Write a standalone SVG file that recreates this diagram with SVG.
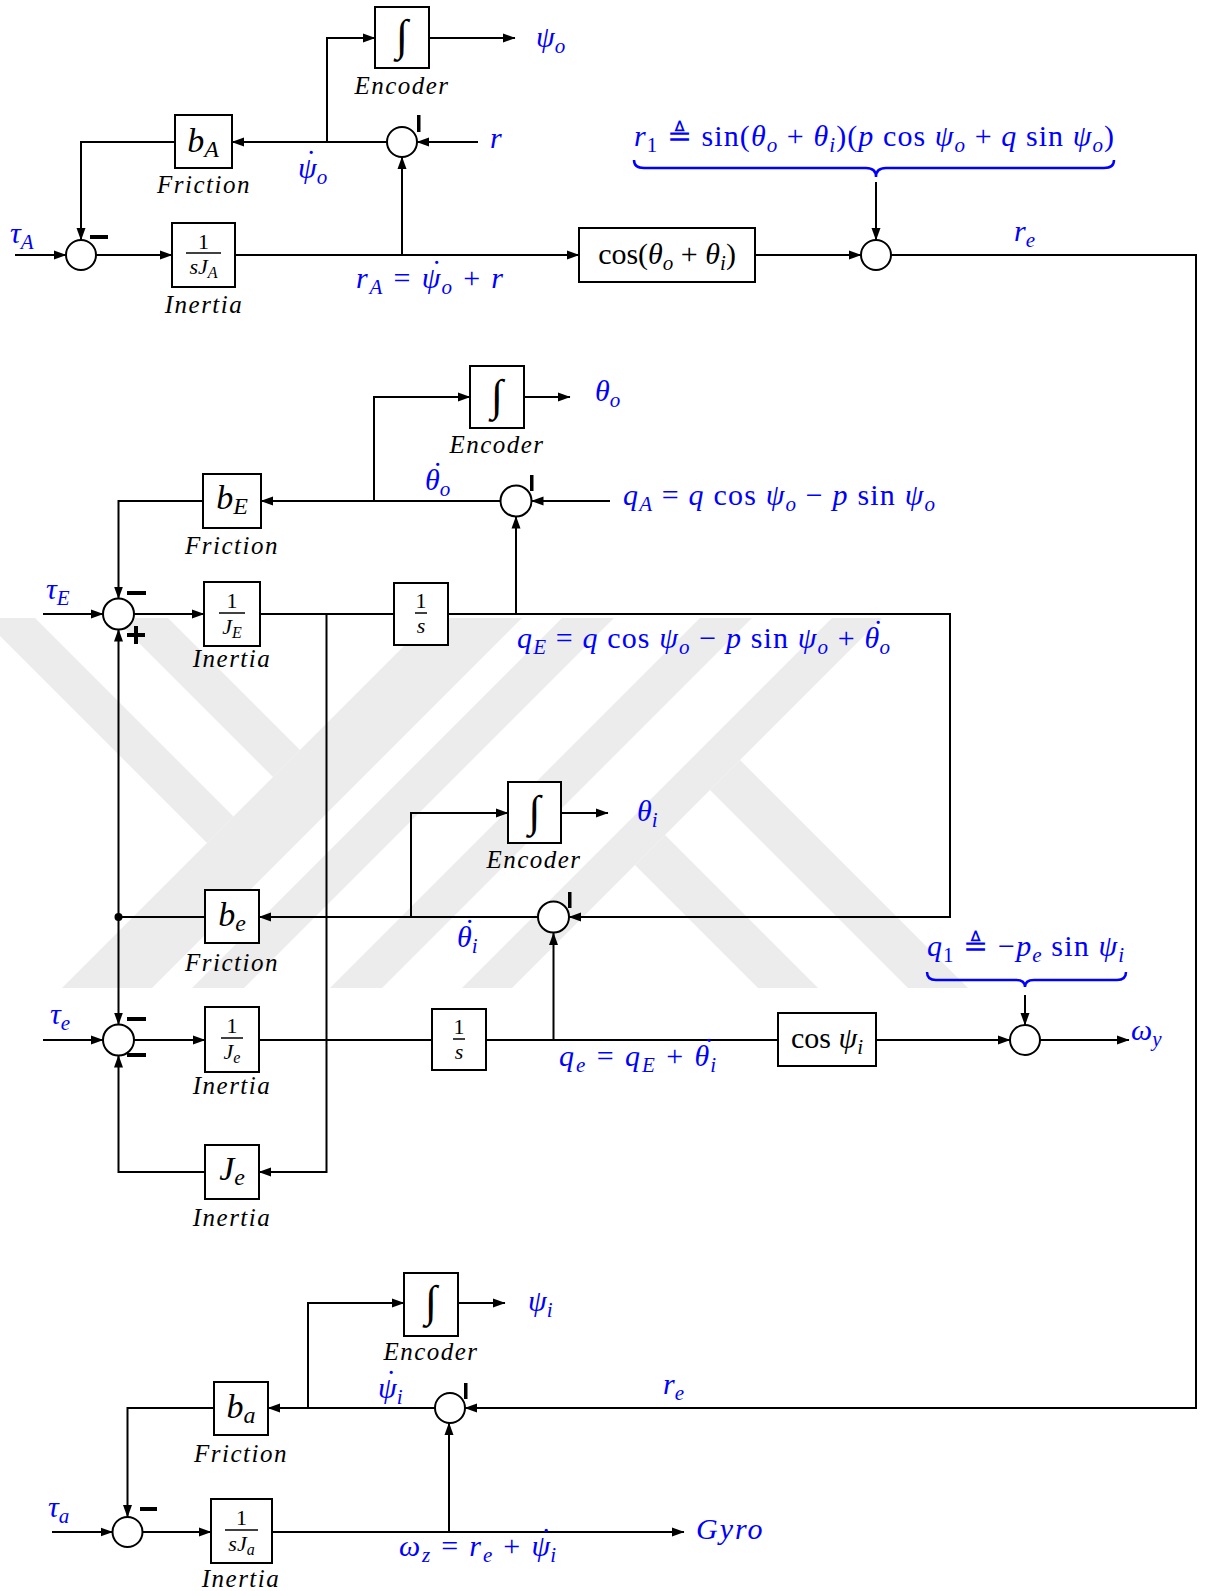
<svg xmlns="http://www.w3.org/2000/svg" width="1207" height="1591" viewBox="0 0 1207 1591">
<defs>
<marker id="ah" markerWidth="13" markerHeight="10" refX="12" refY="5" orient="auto" markerUnits="userSpaceOnUse"><path d="M0,0.5 L12.5,5 L0,9.5 z" fill="#000"/></marker>
<clipPath id="wmclip"><rect x="0" y="618" width="1207" height="370"/></clipPath>
</defs>
<style>
.ln{stroke:#000;stroke-width:2;fill:none}
.arr{marker-end:url(#ah)}
.box{fill:#fff;stroke:#000;stroke-width:2}
.sum{fill:#fff;stroke:#000;stroke-width:2}
.bar{fill:#000}
.wm{fill:#ececec}
text{font-family:"Liberation Serif","Times New Roman",Tinos,serif}
.lbl{font-style:italic;font-size:25px;letter-spacing:1.5px;fill:#000;text-anchor:middle}
.m{font-size:30px;fill:#0000ff}
.k{fill:#000}
.i{font-style:italic}
.int{font-size:44px;fill:#000;text-anchor:middle}
.fr{font-size:22px;fill:#000;text-anchor:middle}
.brace{fill:none;stroke:#0000ff;stroke-width:2.5}
</style>
<rect width="1207" height="1591" fill="#fff"/>
<g id="watermark" clip-path="url(#wmclip)">
<polygon class="wm" points="-36,600 17,600 233.5,816.5 207,843"/>
<polygon class="wm" points="96,600 150,600 300,750 273,777"/>
<polygon class="wm" points="450,600 540,600 140,1000 50,1000"/>
<polygon class="wm" points="580,600 632,600 232,1000 180,1000"/>
<polygon class="wm" points="718,600 770,600 370,1000 318,1000"/>
<polygon class="wm" points="850,600 900,600 500,1000 450,1000"/>
<polygon class="wm" points="635,865 665,835 1115,1285 1085,1315"/>
<polygon class="wm" points="710,790 740,760 1200,1220 1170,1250"/>
</g>
<g id="connectors">
<polyline class="ln arr" points="327,142 327,38 375,38"/>
<line class="ln arr" x1="429" y1="38" x2="515" y2="38"/>
<line class="ln arr" x1="478" y1="142" x2="417" y2="142"/>
<line class="ln arr" x1="387" y1="142" x2="232" y2="142"/>
<polyline class="ln arr" points="175,142 81,142 81,240"/>
<line class="ln arr" x1="15" y1="255" x2="66" y2="255"/>
<line class="ln arr" x1="96" y1="255" x2="172" y2="255"/>
<line class="ln arr" x1="235" y1="255" x2="579" y2="255"/>
<line class="ln arr" x1="402" y1="255" x2="402" y2="157"/>
<line class="ln arr" x1="755" y1="255" x2="861" y2="255"/>
<line class="ln arr" x1="876" y1="182" x2="876" y2="240"/>
<polyline class="ln arr" points="891,255 1196,255 1196,1408 465,1408"/>
<polyline class="ln arr" points="374,501 374,397 470,397"/>
<line class="ln arr" x1="524" y1="397" x2="570" y2="397"/>
<line class="ln arr" x1="610" y1="501" x2="531.5" y2="501"/>
<line class="ln arr" x1="501" y1="501" x2="261" y2="501"/>
<polyline class="ln arr" points="203,501 118.5,501 118.5,598.5"/>
<line class="ln arr" x1="43" y1="614" x2="103" y2="614"/>
<line class="ln arr" x1="134" y1="614" x2="204" y2="614"/>
<line class="ln" x1="260" y1="614" x2="394" y2="614"/>
<polyline class="ln arr" points="326.5,614 326.5,1172 259,1172"/>
<polyline class="ln arr" points="448,614 950,614 950,917 569,917"/>
<line class="ln arr" x1="516" y1="614" x2="516" y2="516.5"/>
<polyline class="ln arr" points="411,917 411,813 508,813"/>
<line class="ln arr" x1="561" y1="813" x2="608" y2="813"/>
<line class="ln arr" x1="538" y1="917" x2="259" y2="917"/>
<line class="ln" x1="205" y1="917" x2="118.5" y2="917"/>
<line class="ln arr" x1="118.5" y1="917" x2="118.5" y2="629.5"/>
<line class="ln arr" x1="118.5" y1="917" x2="118.5" y2="1024.5"/>
<line class="ln arr" x1="43" y1="1040" x2="103" y2="1040"/>
<line class="ln arr" x1="134" y1="1040" x2="205" y2="1040"/>
<line class="ln" x1="259" y1="1040" x2="432" y2="1040"/>
<line class="ln" x1="486" y1="1040" x2="778" y2="1040"/>
<line class="ln arr" x1="553.5" y1="1040" x2="553.5" y2="933"/>
<line class="ln arr" x1="876" y1="1040" x2="1010" y2="1040"/>
<line class="ln arr" x1="1040" y1="1040" x2="1129" y2="1040"/>
<line class="ln arr" x1="1025" y1="995" x2="1025" y2="1025"/>
<polyline class="ln arr" points="205,1172 118.5,1172 118.5,1055.5"/>
<polyline class="ln arr" points="308,1408 308,1303 404,1303"/>
<line class="ln arr" x1="458" y1="1303" x2="505" y2="1303"/>
<line class="ln arr" x1="435" y1="1408" x2="268" y2="1408"/>
<polyline class="ln arr" points="214,1408 127.5,1408 127.5,1517"/>
<line class="ln arr" x1="52" y1="1532" x2="112.5" y2="1532"/>
<line class="ln arr" x1="142.5" y1="1532" x2="211" y2="1532"/>
<line class="ln arr" x1="272" y1="1532" x2="684" y2="1532"/>
<line class="ln arr" x1="449" y1="1532" x2="449" y2="1423"/>
<circle cx="118.5" cy="917" r="4" fill="#000"/>
</g>
<g id="enc1"><rect class="box" x="375" y="7" width="54" height="61"/><text class="int" x="402" y="50">∫</text><text class="lbl" x="402" y="94">Encoder</text></g>
<g id="sum1"><circle class="sum" cx="402" cy="142" r="15"/><rect class="bar" x="417" y="115" width="3.5" height="17"/></g>
<g id="bA"><rect class="box" x="175" y="115" width="57" height="53"/><text class="k" x="203" y="152" text-anchor="middle" font-size="34"><tspan class="i">b</tspan><tspan class="i" font-size="24" dy="5">A</tspan></text><text class="lbl" x="204" y="193">Friction</text></g>
<g id="sum2"><circle class="sum" cx="81" cy="255" r="15"/><rect class="bar" x="90" y="235" width="18" height="4"/></g>
<g id="inA"><rect class="box" x="172" y="223" width="63" height="64"/><text class="fr" x="203.5" y="249">1</text><line x1="186" y1="253" x2="221" y2="253" stroke="#000" stroke-width="1.5"/><text class="fr" x="203.5" y="274"><tspan class="i">sJ</tspan><tspan class="i" font-size="16" dy="4">A</tspan></text><text class="lbl" x="204" y="313">Inertia</text></g>
<g id="cos1"><rect class="box" x="579" y="228" width="176" height="54"/><text class="k" x="667" y="264" text-anchor="middle" font-size="30">cos(<tspan class="i">θ</tspan><tspan class="i" font-size="21" dy="6">o</tspan><tspan dy="-6"> + </tspan><tspan class="i">θ</tspan><tspan class="i" font-size="21" dy="6">i</tspan><tspan dy="-6">)</tspan></text></g>
<g id="sum3"><circle class="sum" cx="876" cy="255" r="15"/></g>
<g id="labels1">
<text class="m" x="536" y="47"><tspan class="i">ψ</tspan><tspan class="i" font-size="21" dy="6">o</tspan></text>
<text class="m i" x="490" y="148">r</text>
<text class="m" x="298" y="178"><tspan class="i" dx="0 -12.5" dy="0 -7">ψ˙</tspan><tspan class="i" font-size="21" dx="2.5" dy="13">o</tspan></text>
<text class="m" x="10" y="243"><tspan class="i">τ</tspan><tspan class="i" font-size="21" dy="6">A</tspan></text>
<text class="m" x="356" y="288" textLength="147" lengthAdjust="spacing"><tspan class="i">r</tspan><tspan class="i" font-size="21" dy="6">A</tspan><tspan dy="-6"> = </tspan><tspan class="i" dx="0 -12.5" dy="0 -7">ψ˙</tspan><tspan class="i" font-size="21" dx="0" dy="13">o</tspan><tspan dy="-6"> + </tspan><tspan class="i">r</tspan></text>
<text class="m" x="634" y="146" textLength="480" lengthAdjust="spacing"><tspan class="i">r</tspan><tspan font-size="21" dy="6">1</tspan><tspan dy="-6"> ≜ sin(</tspan><tspan class="i">θ</tspan><tspan class="i" font-size="21" dy="6">o</tspan><tspan dy="-6"> + </tspan><tspan class="i">θ</tspan><tspan class="i" font-size="21" dy="6">i</tspan><tspan dy="-6">)(</tspan><tspan class="i">p</tspan><tspan> cos </tspan><tspan class="i">ψ</tspan><tspan class="i" font-size="21" dy="6">o</tspan><tspan dy="-6"> + </tspan><tspan class="i">q</tspan><tspan> sin </tspan><tspan class="i">ψ</tspan><tspan class="i" font-size="21" dy="6">o</tspan><tspan dy="-6">)</tspan></text>
<path class="brace" d="M634,160 Q634,168 644,168 L866,168 Q876,168 876,177 Q876,168 886,168 L1104,168 Q1114,168 1114,160"/>
<text class="m" x="1014" y="241"><tspan class="i">r</tspan><tspan class="i" font-size="21" dy="6">e</tspan></text>
</g>
<g id="enc2"><rect class="box" x="470" y="366" width="54" height="62"/><text class="int" x="497" y="410">∫</text><text class="lbl" x="497" y="453">Encoder</text></g>
<g id="sum4"><circle class="sum" cx="516" cy="501" r="15.5"/><rect class="bar" x="530" y="475" width="3.5" height="16"/></g>
<g id="bE"><rect class="box" x="203" y="474" width="58" height="54"/><text class="k" x="232" y="509" text-anchor="middle" font-size="34"><tspan class="i">b</tspan><tspan class="i" font-size="24" dy="5">E</tspan></text><text class="lbl" x="232" y="554">Friction</text></g>
<g id="sum5"><circle class="sum" cx="118.5" cy="614" r="15.5"/><rect class="bar" x="127" y="591" width="19" height="4"/><rect class="bar" x="127" y="633" width="18" height="4"/><rect class="bar" x="134" y="626" width="4" height="18"/></g>
<g id="inE"><rect class="box" x="204" y="582" width="56" height="64"/><text class="fr" x="232" y="608">1</text><line x1="219" y1="613" x2="245" y2="613" stroke="#000" stroke-width="1.5"/><text class="fr" x="232" y="634"><tspan class="i">J</tspan><tspan class="i" font-size="16" dy="4">E</tspan></text><text class="lbl" x="232" y="667">Inertia</text></g>
<g id="intE"><rect class="box" x="394" y="583" width="54" height="62"/><text class="fr" x="421" y="608">1</text><line x1="415" y1="613" x2="427" y2="613" stroke="#000" stroke-width="1.5"/><text class="fr i" x="421" y="633">s</text></g>
<g id="labels2">
<text class="m" x="595" y="401"><tspan class="i">θ</tspan><tspan class="i" font-size="21" dy="6">o</tspan></text>
<text class="m" x="623" y="505" textLength="312" lengthAdjust="spacing"><tspan class="i">q</tspan><tspan class="i" font-size="21" dy="6">A</tspan><tspan dy="-6"> = </tspan><tspan class="i">q</tspan><tspan> cos </tspan><tspan class="i">ψ</tspan><tspan class="i" font-size="21" dy="6">o</tspan><tspan dy="-6"> − </tspan><tspan class="i">p</tspan><tspan> sin </tspan><tspan class="i">ψ</tspan><tspan class="i" font-size="21" dy="6">o</tspan></text>
<text class="m" x="425" y="490"><tspan class="i" dx="0 -9" dy="0 -7">θ˙</tspan><tspan class="i" font-size="21" dx="-1" dy="13">o</tspan></text>
<text class="m" x="46" y="599"><tspan class="i">τ</tspan><tspan class="i" font-size="21" dy="6">E</tspan></text>
<text class="m" x="517" y="648" textLength="373" lengthAdjust="spacing"><tspan class="i">q</tspan><tspan class="i" font-size="21" dy="6">E</tspan><tspan dy="-6"> = </tspan><tspan class="i">q</tspan><tspan> cos </tspan><tspan class="i">ψ</tspan><tspan class="i" font-size="21" dy="6">o</tspan><tspan dy="-6"> − </tspan><tspan class="i">p</tspan><tspan> sin </tspan><tspan class="i">ψ</tspan><tspan class="i" font-size="21" dy="6">o</tspan><tspan dy="-6"> + </tspan><tspan class="i" dx="0 -9" dy="0 -7">θ˙</tspan><tspan class="i" font-size="21" dx="-3" dy="13">o</tspan></text>
</g>
<g id="enc3"><rect class="box" x="508" y="782" width="53" height="61"/><text class="int" x="534.5" y="826">∫</text><text class="lbl" x="534" y="868">Encoder</text></g>
<g id="sum6"><circle class="sum" cx="553.5" cy="917" r="15.5"/><rect class="bar" x="568" y="892" width="3.5" height="16"/></g>
<g id="be"><rect class="box" x="205" y="890" width="54" height="53"/><text class="k" x="232" y="926" text-anchor="middle" font-size="34"><tspan class="i">b</tspan><tspan class="i" font-size="24" dy="5">e</tspan></text><text class="lbl" x="232" y="971">Friction</text></g>
<g id="sum7"><circle class="sum" cx="118.5" cy="1040" r="15.5"/><rect class="bar" x="127" y="1017" width="19" height="4"/><rect class="bar" x="127" y="1053" width="19" height="4"/></g>
<g id="ine"><rect class="box" x="205" y="1007" width="54" height="65"/><text class="fr" x="232" y="1033">1</text><line x1="221" y1="1038" x2="243" y2="1038" stroke="#000" stroke-width="1.5"/><text class="fr" x="232" y="1059"><tspan class="i">J</tspan><tspan class="i" font-size="16" dy="4">e</tspan></text><text class="lbl" x="232" y="1094">Inertia</text></g>
<g id="inte"><rect class="box" x="432" y="1009" width="54" height="61"/><text class="fr" x="459" y="1034">1</text><line x1="453" y1="1039" x2="465" y2="1039" stroke="#000" stroke-width="1.5"/><text class="fr i" x="459" y="1059">s</text></g>
<g id="cos2"><rect class="box" x="778" y="1013" width="98" height="53"/><text class="k" x="827" y="1048" text-anchor="middle" font-size="30">cos <tspan class="i">ψ</tspan><tspan class="i" font-size="21" dy="6">i</tspan></text></g>
<g id="sum8"><circle class="sum" cx="1025" cy="1040" r="15"/></g>
<g id="Je"><rect class="box" x="205" y="1145" width="54" height="54"/><text class="k" x="232" y="1180" text-anchor="middle" font-size="34"><tspan class="i">J</tspan><tspan class="i" font-size="24" dy="5">e</tspan></text><text class="lbl" x="232" y="1226">Inertia</text></g>
<g id="labels3">
<text class="m" x="637" y="821"><tspan class="i">θ</tspan><tspan class="i" font-size="21" dy="6">i</tspan></text>
<text class="m" x="457" y="947"><tspan class="i" dx="0 -9" dy="0 -7">θ˙</tspan><tspan class="i" font-size="21" dx="-1" dy="13">i</tspan></text>
<text class="m" x="50" y="1024"><tspan class="i">τ</tspan><tspan class="i" font-size="21" dy="6">e</tspan></text>
<text class="m" x="559" y="1066" textLength="157" lengthAdjust="spacing"><tspan class="i">q</tspan><tspan class="i" font-size="21" dy="6">e</tspan><tspan dy="-6"> = </tspan><tspan class="i">q</tspan><tspan class="i" font-size="21" dy="6">E</tspan><tspan dy="-6"> + </tspan><tspan class="i" dx="0 -9" dy="0 -7">θ˙</tspan><tspan class="i" font-size="21" dx="-4" dy="13">i</tspan></text>
<text class="m" x="927" y="956" textLength="197" lengthAdjust="spacing"><tspan class="i">q</tspan><tspan font-size="21" dy="6">1</tspan><tspan dy="-6"> ≜ −</tspan><tspan class="i">p</tspan><tspan class="i" font-size="21" dy="6">e</tspan><tspan dy="-6"> sin </tspan><tspan class="i">ψ</tspan><tspan class="i" font-size="21" dy="6">i</tspan></text>
<path class="brace" d="M927,972 Q927,980 936,980 L1016,980 Q1025,980 1025,987 Q1025,980 1034,980 L1117,980 Q1126,980 1126,972"/>
<text class="m" x="1131" y="1040"><tspan class="i">ω</tspan><tspan class="i" font-size="21" dy="6">y</tspan></text>
</g>
<g id="enc4"><rect class="box" x="404" y="1273" width="54" height="63"/><text class="int" x="431" y="1316">∫</text><text class="lbl" x="431" y="1360">Encoder</text></g>
<g id="sum9"><circle class="sum" cx="450" cy="1408" r="15"/><rect class="bar" x="464" y="1383" width="3.5" height="16"/></g>
<g id="ba"><rect class="box" x="214" y="1382" width="54" height="53"/><text class="k" x="241" y="1418" text-anchor="middle" font-size="34"><tspan class="i">b</tspan><tspan class="i" font-size="24" dy="5">a</tspan></text><text class="lbl" x="241" y="1462">Friction</text></g>
<g id="sum10"><circle class="sum" cx="127.5" cy="1532" r="15"/><rect class="bar" x="140" y="1507" width="17" height="4"/></g>
<g id="ina"><rect class="box" x="211" y="1499" width="61" height="64"/><text class="fr" x="241.5" y="1525">1</text><line x1="225" y1="1530" x2="258" y2="1530" stroke="#000" stroke-width="1.5"/><text class="fr" x="241.5" y="1551"><tspan class="i">sJ</tspan><tspan class="i" font-size="16" dy="4">a</tspan></text><text class="lbl" x="241" y="1587">Inertia</text></g>
<g id="labels4">
<text class="m" x="528" y="1311"><tspan class="i">ψ</tspan><tspan class="i" font-size="21" dy="6">i</tspan></text>
<text class="m" x="378" y="1398"><tspan class="i" dx="0 -12.5" dy="0 -7">ψ˙</tspan><tspan class="i" font-size="21" dx="2.5" dy="13">i</tspan></text>
<text class="m" x="663" y="1394"><tspan class="i">r</tspan><tspan class="i" font-size="21" dy="6">e</tspan></text>
<text class="m" x="48" y="1517"><tspan class="i">τ</tspan><tspan class="i" font-size="21" dy="6">a</tspan></text>
<text class="m i" x="696" y="1539" font-size="32" letter-spacing="2">Gyro</text>
<text class="m" x="399" y="1556" textLength="157" lengthAdjust="spacing"><tspan class="i">ω</tspan><tspan class="i" font-size="21" dy="6">z</tspan><tspan dy="-6"> = </tspan><tspan class="i">r</tspan><tspan class="i" font-size="21" dy="6">e</tspan><tspan dy="-6"> + </tspan><tspan class="i" dx="0 -12.5" dy="0 -7">ψ˙</tspan><tspan class="i" font-size="21" dx="-1" dy="13">i</tspan></text>
</g>
</svg>
